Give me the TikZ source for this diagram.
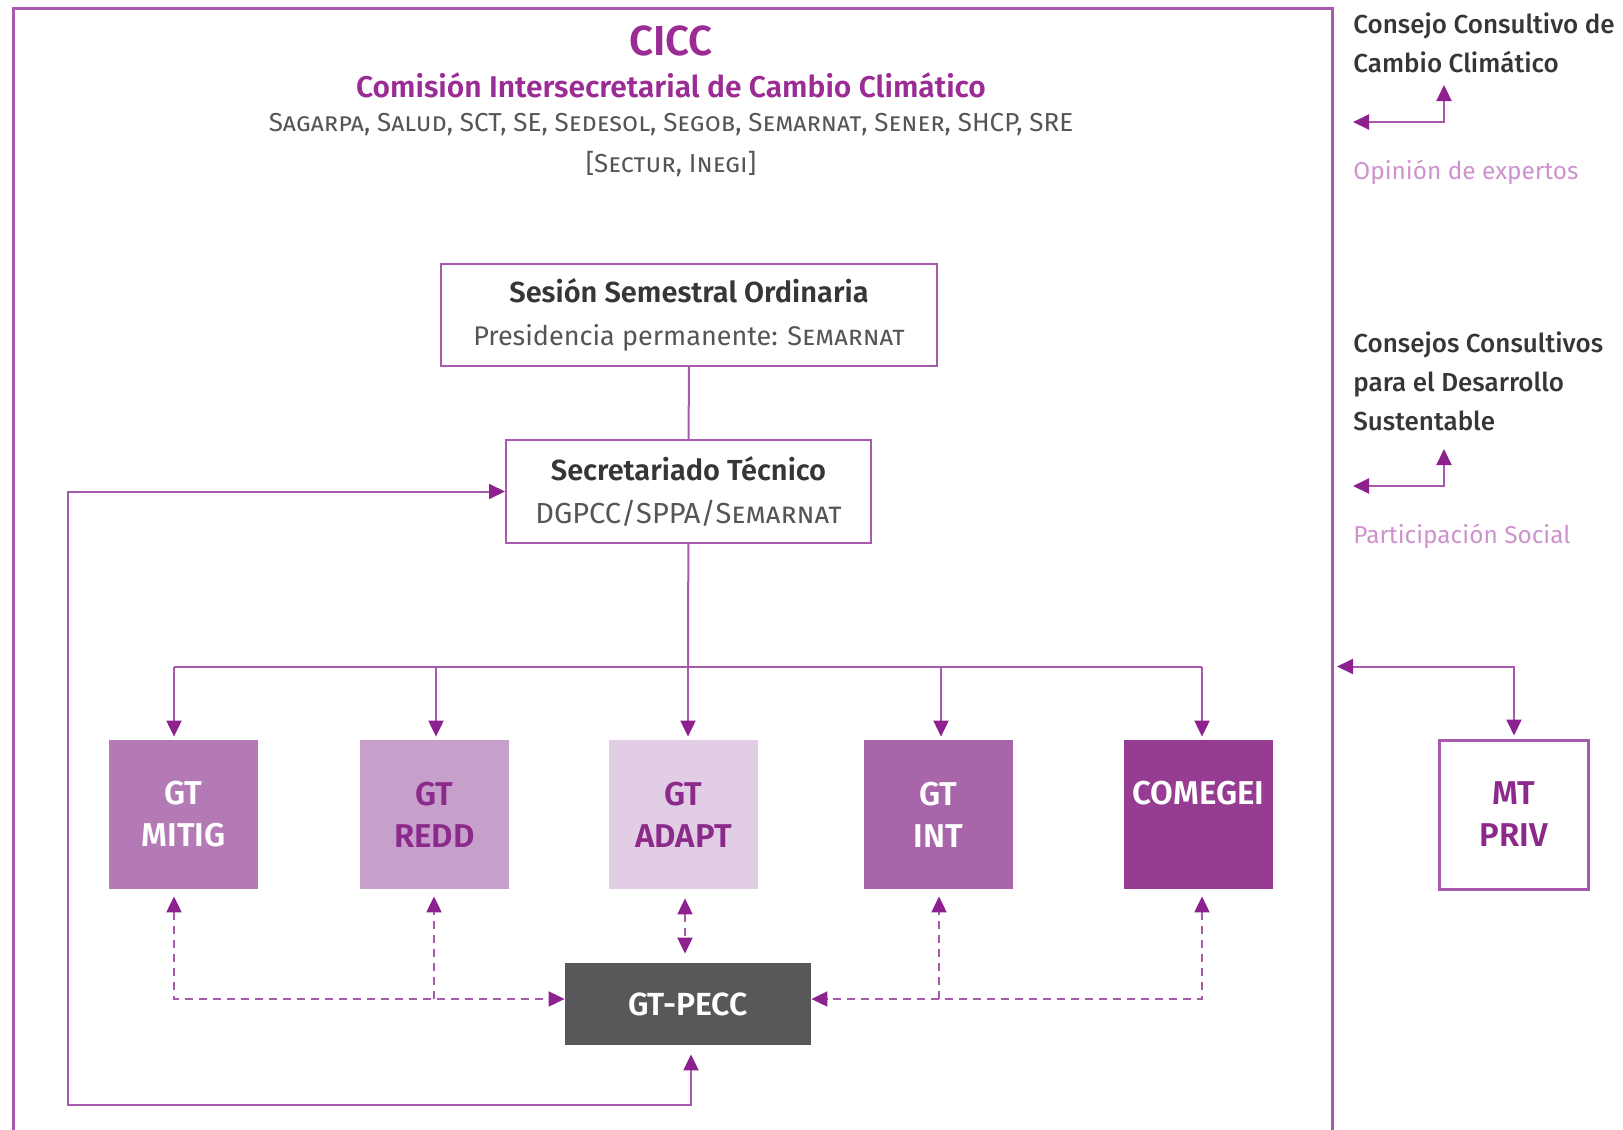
\documentclass[tikz,border=0pt]{standalone}
\usepackage{fontspec}
\setmainfont{Fira Sans}[BoldFont={Fira Sans SemiBold}]
\newfontfamily\medfont{Fira Sans Medium}
\usetikzlibrary{positioning, arrows.meta}

\definecolor{cicc}{HTML}{9B2C95}
\definecolor{lnpurple}{HTML}{A85AAD}
\definecolor{tippurple}{HTML}{8E2190}
\definecolor{mitig}{HTML}{B37AB5}
\definecolor{redd}{HTML}{C6A0CB}
\definecolor{adapt}{HTML}{E1CDE4}
\definecolor{gtint}{HTML}{A865AA}
\definecolor{comegei}{HTML}{963D93}
\definecolor{pecc}{HTML}{58585A}
\definecolor{txtdark}{HTML}{363636}
\definecolor{txtgray}{HTML}{555555}
\definecolor{txtlight}{HTML}{CE92CE}
\definecolor{labpurple}{HTML}{8B2A8B}

\begin{document}
\begin{tikzpicture}[x=0.5pt, y=-0.5pt,
  >={Triangle[length=8pt, width=7.5pt, color=tippurple]},
  line/.style={draw=lnpurple, line width=1pt},
  dline/.style={line, dash pattern=on 4pt off 3pt},
  outer/.style={draw=lnpurple, line width=1.5pt},
  wbox/.style={draw=lnpurple, line width=1pt, fill=white, align=center,
    text=txtdark, font=\fontsize{13.5}{21.5}\selectfont},
  gtbox/.style={minimum width=74.5pt, minimum height=74.5pt, align=center,
    font=\bfseries\fontsize{16.5}{21}\selectfont, inner sep=0pt},
  side/.style={anchor=west, align=left, inner sep=0pt, text=txtdark,
    font=\medfont\fontsize{13}{19.5}\selectfont},
  sidelab/.style={anchor=west, inner sep=0pt, text=txtlight, font=\fontsize{12.2}{15}\selectfont},
]
\useasboundingbox (0,0) rectangle (1623,1130);

% marco de la CICC
\draw[outer] (13,1140) |- (1332,8) -- (1332,1140);

\node[text=cicc, font=\bfseries\fontsize{21}{24}\selectfont] (cicc) at (671,41) {CICC};
\node[text=cicc, font=\bfseries\fontsize{15}{18}\selectfont] (cicc name) at (671,85) {Comisión Intersecretarial de Cambio Climático};
\node[text=txtgray, font=\fontsize{13}{16}\selectfont] (members) at (671,125) {\textsc{Sagarpa}, \textsc{Salud}, SCT, SE, \textsc{Sedesol}, \textsc{Segob}, \textsc{Semarnat}, \textsc{Sener}, SHCP, SRE};
\node[text=txtgray, font=\fontsize{13}{16}\selectfont] (guests) at (671,164) {[\textsc{Sectur, Inegi}]};

\node[wbox, minimum width=248pt, minimum height=51pt] (sesion) at (689,315)
  {{\bfseries\fontsize{14.5}{21.5}\selectfont Sesión Semestral Ordinaria}\\{\color{txtgray}Presidencia permanente: \textsc{Semarnat}}};
\node[wbox, minimum width=182.5pt, minimum height=51.5pt] (secret) at (688.5,491.5)
  {{\bfseries\fontsize{14.5}{21.5}\selectfont Secretariado Técnico}\\{\color{txtgray}\fontsize{14.5}{21.5}\selectfont DGPCC/SPPA/\textsc{Semarnat}}};

\node[gtbox, fill=mitig, text=white] (mitig) at (183.5,814.5) {GT\\MITIG};
\node[gtbox, fill=redd, text=labpurple] (redd) at (434.5,814.5) {GT\\REDD};
\node[gtbox, fill=adapt, text=labpurple] (adapt) at (683.5,814.5) {GT\\ADAPT};
\node[gtbox, fill=gtint, text=white] (gtint) at (938.5,814.5) {GT\\INT};
\node[gtbox, fill=comegei, text=white] (comegei) at (1198.5,814.5) {COMEGEI\\\phantom{GT}};
\node[gtbox, draw=lnpurple, line width=1.5pt, fill=white, text=labpurple] (mtpriv) at (1514,814.5) {MT\\PRIV};
\node[fill=pecc, text=white, minimum width=123pt, minimum height=41pt,
  font=\bfseries\fontsize{16}{18}\selectfont] (gtpecc) at (688,1004) {GT-PECC};

% textos laterales
\node[side] (ccc) at (1353,42.5) {Consejo Consultivo de\\Cambio Climático};
\node[sidelab] (expertos) at (1353,172) {Opinión de expertos};
\node[side] (ccds) at (1353,381.5) {Consejos Consultivos\\para el Desarrollo\\Sustentable};
\node[sidelab] (social) at (1353,536) {Participación Social};

\coordinate (bus) at (688,666.5);
\coordinate (mt bus) at (1337,666.5);
\coordinate (loop bl) at (68,1105);
\coordinate (ccc left) at (1353,122);
\coordinate (ccc up) at (1444,85);
\coordinate (ccds left) at (1353,486);
\coordinate (ccds up) at (1444,449);
\coordinate (mitigtop) at ([xshift=-4.75pt]mitig.north);
\coordinate (reddtop) at ([xshift=0.75pt]redd.north);
\coordinate (adapttop) at ([xshift=2.25pt]adapt.north);
\coordinate (gtinttop) at ([xshift=1.25pt]gtint.north);
\coordinate (comegeitop) at ([xshift=1.75pt]comegei.north);
\coordinate (pecc left) at ([yshift=2.5pt]gtpecc.west);
\coordinate (pecc right) at ([yshift=2.5pt]gtpecc.east);

\draw[line] (sesion) -- (secret);
\draw[line] (secret) -- (bus);
\draw[line] (bus -| mitigtop) -- (bus -| comegeitop);
\foreach \n in {mitigtop, reddtop, adapttop, gtinttop, comegeitop}
  \draw[line, ->, shorten >=1.5pt] (bus -| \n) -- (\n);

% enlaces con GT-PECC
\draw[dline, <->, shorten <=3.5pt] ([xshift=-4.75pt]mitig.south) |- (pecc left);
\draw[dline, ->, shorten >=3.5pt] ([xshift=-0.25pt]redd.south |- pecc left) -- ([xshift=-0.25pt]redd.south);
\draw[dline, <->, shorten <=4.5pt, shorten >=4.5pt] ([xshift=0.75pt]adapt.south) -- ([xshift=0.75pt]adapt.south |- gtpecc.north);
\draw[dline, ->, shorten >=3.5pt] ([xshift=0.25pt]gtint.south |- pecc right) -- ([xshift=0.25pt]gtint.south);
\draw[dline, <->, shorten <=3.5pt] ([xshift=1.75pt]comegei.south) |- (pecc right);

\draw[line, <->, shorten <=4.5pt] ([xshift=1.5pt]gtpecc.south) |- (loop bl) |- (secret.west);
\draw[line, <->, shorten >=1.5pt] (mt bus) -| (mtpriv.north);

\draw[line, <->] (ccc left) -| (ccc up);
\draw[line, <->] (ccds left) -| (ccds up);

\end{tikzpicture}
\end{document}
